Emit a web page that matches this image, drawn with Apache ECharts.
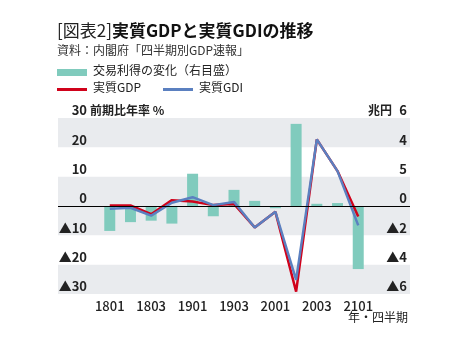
<!DOCTYPE html>
<html>
<head>
<meta charset="utf-8">
<script src="https://cdn.jsdelivr.net/npm/echarts@6/dist/echarts.min.js"></script>
<style>
  html, body { margin: 0; padding: 0; background: #fff; }
  #chart { width: 469px; height: 352px; }
</style>
</head>
<body>
<div id="chart"></div>
<script>
// 四半期
const quarters = ['1801', '1802', '1803', '1804', '1901', '1902', '1903', '1904', '2001', '2002', '2003', '2004', '2101']
// 交易利得の変化（兆円、右目盛）
const tradeGain = [-1.7, -1.1, -1.0, -1.2, 2.2, -0.7, 1.1, 0.35, -0.15, 5.6, 0.15, 0.2, -4.3]
// 実質GDP（前期比年率 %）
const realGDP = [0.2, 0.2, -2.8, 2.0, 1.5, 0.3, 0.7, -7.3, -2.0, -29.2, 22.7, 11.9, -3.6]
// 実質GDI（前期比年率 %）
const realGDI = [-0.9, -0.6, -3.3, 1.1, 3.0, 0.3, 1.4, -7.3, -2.0, -25.2, 22.7, 11.9, -6.6]
// 目盛ラベル
const leftTicks = ['▲30', '▲20', '▲10', '0', '10', '20', '30']
const rightTicks = ['▲6', '▲4', '▲2', '0', '5', '4', '6']

const PAD = 2
const cats = Array(PAD).fill('').concat(quarters, Array(PAD).fill(''))
const pad = arr => Array(PAD).fill('-').concat(arr, Array(PAD).fill('-'))

const FONT = '"Noto Sans CJK JP", "Noto Sans", sans-serif'
const TEAL = '#80cbbd'
const RED = '#d0021b'
const BLUE = '#5b80c0'
const GRAY = '#e9ebee'

const chart = echarts.init(document.getElementById('chart'), null, { renderer: 'canvas' })

const option = {
  animation: false,
  textStyle: { fontFamily: FONT },
  grid: { left: 58, top: 118, width: 352, height: 176 },
  xAxis: {
    type: 'category',
    data: cats,
    boundaryGap: true,
    axisLine: { show: false },
    axisTick: { show: false },
    splitLine: { show: false },
    axisLabel: {
      margin: 6,
      fontSize: 13,
      fontWeight: 500,
      color: '#222',
      fontFamily: FONT,
      interval: (i, v) => v !== '' && (i - PAD) % 2 === 0
    }
  },
  yAxis: [
    {
      type: 'value',
      min: -30, max: 30, interval: 10,
      axisLine: { show: false },
      axisTick: { show: false },
      splitLine: { show: false },
      splitArea: { show: true, areaStyle: { color: [GRAY, 'rgba(0,0,0,0)', GRAY, GRAY, 'rgba(0,0,0,0)', GRAY] } },
      axisLabel: {
        inside: true,
        margin: 29,
        align: 'right',
        verticalAlign: 'bottom',
        padding: [0, 0, 1, 0],
        fontSize: 13,
        fontWeight: 'bold',
        color: '#222',
        fontFamily: FONT,
        formatter: v => leftTicks[Math.round((v + 30) / 10)]
      }
    },
    {
      type: 'value',
      min: -6, max: 6, interval: 2,
      position: 'right',
      axisLine: { show: false },
      axisTick: { show: false },
      splitLine: { show: false },
      axisLabel: {
        inside: true,
        margin: 3,
        align: 'right',
        verticalAlign: 'bottom',
        padding: [0, 0, 1, 0],
        fontSize: 13,
        fontWeight: 'bold',
        color: '#222',
        fontFamily: FONT,
        formatter: v => rightTicks[Math.round((v + 6) / 2)]
      }
    }
  ],
  series: [
    {
      name: '交易利得の変化（右目盛）',
      type: 'bar',
      yAxisIndex: 1,
      data: pad(tradeGain),
      barWidth: 11,
      itemStyle: { color: TEAL },
      markLine: {
        silent: true,
        symbol: 'none',
        label: { show: false },
        lineStyle: { color: '#000', width: 1, type: 'solid' },
        data: [{ yAxis: 0 }]
      }
    },
    {
      name: '実質GDP',
      type: 'line',
      yAxisIndex: 0,
      data: pad(realGDP),
      showSymbol: false,
      lineStyle: { color: RED, width: 2.5 },
      itemStyle: { color: RED }
    },
    {
      name: '実質GDI',
      type: 'line',
      yAxisIndex: 0,
      data: pad(realGDI),
      showSymbol: false,
      lineStyle: { color: BLUE, width: 2.5 },
      itemStyle: { color: BLUE }
    }
  ],
  graphic: [
    {
      type: 'text', left: 57, top: 22,
      style: {
        text: '{l|[図表2]}{b|実質GDPと実質GDIの推移}',
        rich: {
          l: { fontSize: 17, fontFamily: FONT, fill: '#222', fontWeight: 'normal' },
          b: { fontSize: 17, fontFamily: FONT, fill: '#111', fontWeight: 'bold' }
        }
      }
    },
    { type: 'text', left: 57, top: 44, style: { text: '資料：内閣府「四半期別GDP速報」', fontSize: 12, fontFamily: FONT, fill: '#333' } },
    // 凡例
    { type: 'rect', shape: { x: 57, y: 69, width: 30, height: 7 }, style: { fill: TEAL } },
    { type: 'text', left: 93, top: 64, style: { text: '交易利得の変化（右目盛）', fontSize: 12, fontFamily: FONT, fill: '#222' } },
    { type: 'rect', shape: { x: 57, y: 88, width: 30, height: 3 }, style: { fill: RED } },
    { type: 'text', left: 93, top: 81, style: { text: '実質GDP', fontSize: 12, fontFamily: FONT, fill: '#222' } },
    { type: 'rect', shape: { x: 163, y: 88, width: 30, height: 3 }, style: { fill: BLUE } },
    { type: 'text', left: 199, top: 81, style: { text: '実質GDI', fontSize: 12, fontFamily: FONT, fill: '#222' } },
    // 軸名
    { type: 'text', left: 90, top: 104, style: { text: '前期比年率 %', fontSize: 12, fontWeight: 'bold', fontFamily: FONT, fill: '#222' } },
    { type: 'text', left: 368, top: 104, style: { text: '兆円', fontSize: 12, fontWeight: 'bold', fontFamily: FONT, fill: '#222' } },
    { type: 'text', right: 61, top: 311, style: { text: '年・四半期', fontSize: 12, fontFamily: FONT, fill: '#222' } }
  ]
}

chart.setOption(option)
</script>
</body>
</html>
